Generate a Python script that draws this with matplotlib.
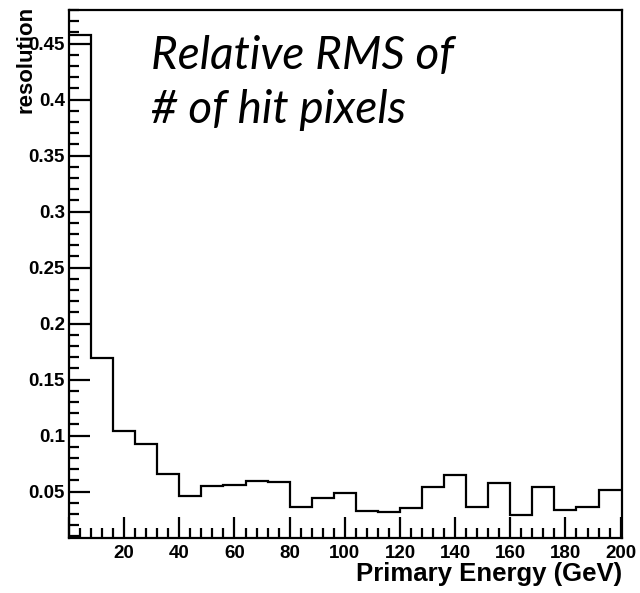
import matplotlib
matplotlib.use("Agg")
import matplotlib.pyplot as plt
import numpy as np
from matplotlib.ticker import MultipleLocator, FormatStrFormatter

# Data
bin_edges = list(range(0, 201, 8))
resolution = [0.458, 0.1695, 0.104, 0.092, 0.066, 0.046, 0.055, 0.0555, 0.059, 0.0585,
              0.036, 0.044, 0.049, 0.0326, 0.0314, 0.035, 0.054, 0.0647, 0.036, 0.058,
              0.0293, 0.054, 0.0332, 0.036, 0.0516]
x_label = "Primary Energy (GeV)"
y_label = "resolution"
annotation_lines = ["Relative RMS of", "# of hit pixels"]

W, H = 640, 593
fig = plt.figure(figsize=(W / 100, H / 100), dpi=100)
ax = fig.add_axes([69 / W, 1 - 538 / H, (622 - 69) / W, (538 - 10) / H])

ax.stairs(resolution, bin_edges, color="black", linewidth=1.6, baseline=None)

ax.set_xlim(0, 200.5)
ax.set_ylim(0.0085, 0.48)

ax.xaxis.set_major_locator(MultipleLocator(20))
ax.xaxis.set_minor_locator(MultipleLocator(4))
ax.yaxis.set_major_locator(MultipleLocator(0.05))
ax.yaxis.set_minor_locator(MultipleLocator(0.01))
ax.yaxis.set_major_formatter(FormatStrFormatter("%g"))
ax.xaxis.set_major_formatter(lambda v, p: "" if v == 0 else "%g" % v)

for s in ax.spines.values():
    s.set_linewidth(1.6)

ax.tick_params(which="both", direction="in", top=False, right=False, width=1.6)
ax.tick_params(which="major", axis="x", length=15, pad=5)
ax.tick_params(which="minor", axis="x", length=7.5)
ax.tick_params(which="major", axis="y", length=15, pad=3)
ax.tick_params(which="minor", axis="y", length=7.5)
for lab in ax.get_xticklabels() + ax.get_yticklabels():
    lab.set_fontfamily("Liberation Sans")
    lab.set_fontweight("bold")
    lab.set_fontsize(13.5)

fig.text(622 / W, 1 - 574 / H, x_label, ha="right", va="center",
         fontfamily="Liberation Sans", fontweight="bold", fontsize=18.5)
fig.text(26 / W, 1 - 6 / H, y_label, ha="center", va="top", rotation=90,
         fontfamily="Liberation Sans", fontweight="bold", fontsize=16)

for i, line in enumerate(annotation_lines):
    fig.text(151 / W, 1 - (69 + 54 * i) / H, line, ha="left", va="baseline",
             fontfamily="Lato", fontstyle="italic", fontsize=33)

fig.savefig("out.png", dpi=100)
